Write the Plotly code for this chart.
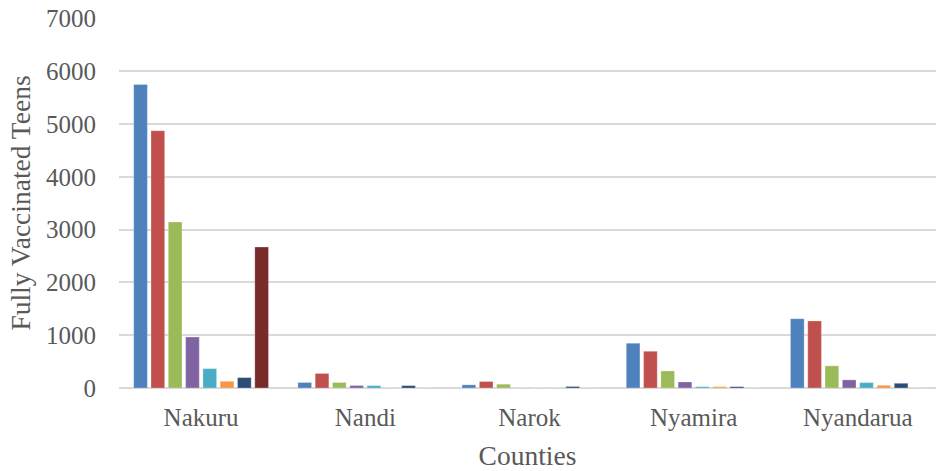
import plotly.graph_objects as go

counties = ["Nakuru", "Nandi", "Narok", "Nyamira", "Nyandarua"]
series_names = ["Series 1", "Series 2", "Series 3", "Series 4",
                "Series 5", "Series 6", "Series 7", "Series 8"]
s1 = [5750, 104, 60, 848, 1313]
s2 = [4875, 275, 123, 696, 1270]
s3 = [3144, 104, 72, 323, 420]
s4 = [966, 47, 0, 114, 154]
s5 = [367, 45, 0, 25, 102]
s6 = [127, 0, 0, 25, 51]
s7 = [197, 45, 28, 25, 89]
s8 = [2670, 0, 0, 0, 0]
y_ticks = [0, 1000, 2000, 3000, 4000, 5000, 6000, 7000]

colors = ["#4F81BD", "#C0504D", "#9BBB59", "#8064A2",
          "#4BACC6", "#F79646", "#2C4D75", "#772C2A"]

fig = go.Figure()
for name, vals, c in zip(series_names, [s1, s2, s3, s4, s5, s6, s7, s8], colors):
    fig.add_trace(go.Bar(x=counties, y=vals, name=name, marker_color=c,
                         marker_line=dict(color="rgba(255,255,255,0.5)", width=0.5)))

font_family = "Liberation Serif"
fig.update_layout(
    width=936, height=471,
    margin=dict(l=119, r=0, t=17.5, b=83),
    paper_bgcolor="white", plot_bgcolor="white",
    barmode="group", bargap=0.157, bargroupgap=0.21,
    showlegend=False,
    font=dict(family=font_family, color="#595959", size=25),
)
fig.update_xaxes(
    range=[-0.5, 4.476], showgrid=False, showline=False, ticks="",
    tickfont=dict(size=25, family=font_family, color="#595959"),
    ticklabelstandoff=12,
    title=dict(text="Counties", font=dict(size=27.5, family=font_family, color="#595959"), standoff=16),
)
fig.update_yaxes(
    range=[0, 7010], tickvals=y_ticks, showgrid=True, gridcolor="#D9D9D9", gridwidth=1.5,
    zeroline=True, zerolinecolor="#D9D9D9", zerolinewidth=1.5, showline=False, ticks="",
    tickfont=dict(size=25, family=font_family, color="#595959"),
    ticklabelstandoff=22,
    title=dict(text="Fully Vaccinated Teens", font=dict(size=27.5, family=font_family, color="#595959"), standoff=7),
)

fig.write_html("out.html", config={"displayModeBar": False},
               post_script="document.body.style.margin='0';")
